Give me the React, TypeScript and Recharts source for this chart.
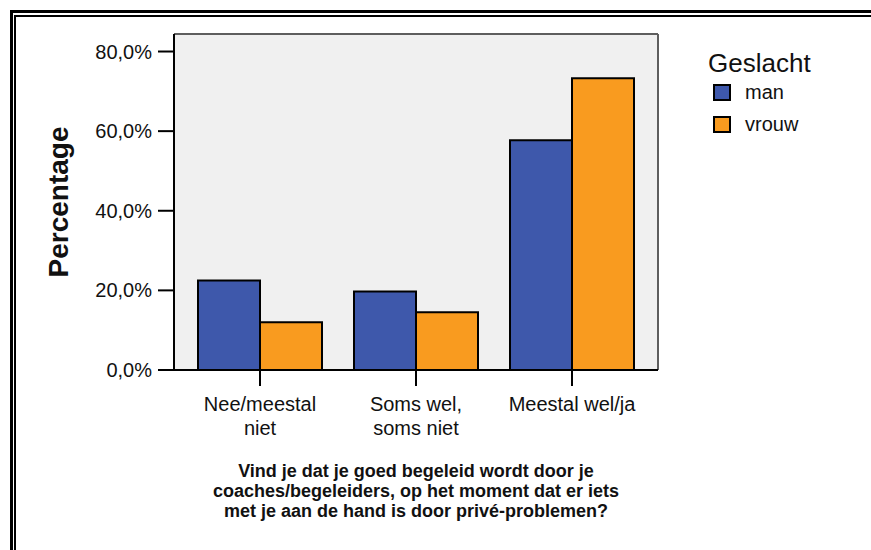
import { Bar, BarChart, CartesianGrid, Legend, XAxis, YAxis } from "recharts";

const categories = ["Nee/meestal\nniet", "Soms wel,\nsoms niet", "Meestal wel/ja"];
const manValues = [22.5, 19.7, 57.7];
const vrouwValues = [12.0, 14.5, 73.3];
const yTicks = [0, 20, 40, 60, 80];
const legendTitle = "Geslacht";
const yLabel = "Percentage";
const xTitle = [
  "Vind je dat je goed begeleid wordt door je",
  "coaches/begeleiders, op het moment dat er iets",
  "met je aan de hand is door privé-problemen?",
];

const data = categories.map((category, i) => ({
  category,
  man: manValues[i],
  vrouw: vrouwValues[i],
}));

const FONT = '"Liberation Sans", Arial, Helvetica, sans-serif';
const BLUE = "#3e58ab";
const ORANGE = "#f99b1f";

const pct = (v: number) => v.toFixed(1).replace(".", ",") + "%";

/** Category labels can span two lines, split on \n. */
function CategoryTick({ x, y, payload }: any) {
  const lines = String(payload.value).split("\n");
  return (
    <text x={x} y={y} textAnchor="middle" fontSize={20} fontFamily={FONT} fill="#111">
      {lines.map((line, i) => (
        <tspan key={i} x={x} dy={i === 0 ? 23 : 24}>
          {line}
        </tspan>
      ))}
    </text>
  );
}

function LegendBox({ payload }: any) {
  return (
    <div style={{ fontFamily: FONT, color: "#111" }}>
      <div style={{ fontSize: 26, lineHeight: "26px" }}>{legendTitle}</div>
      {(payload ?? []).map((item: any) => (
        <div key={item.value} style={{ display: "flex", alignItems: "center", height: 32 }}>
          <span
            style={{
              display: "inline-block",
              boxSizing: "border-box",
              width: 18,
              height: 17,
              marginLeft: 5,
              background: item.color,
              border: "2px solid #000",
            }}
          />
          <span style={{ fontSize: 20, marginLeft: 14 }}>{item.value}</span>
        </div>
      ))}
    </div>
  );
}

export default function App() {
  return (
    <div
      style={{
        position: "absolute",
        left: 0,
        top: 0,
        width: 871,
        height: 550,
        overflow: "hidden",
        background: "#fff",
      }}
    >
      {/* double frame, runs off the right and bottom edges */}
      <div style={{ position: "absolute", left: 10, top: 10, width: 900, height: 600, border: "3px solid #000" }} />
      <div style={{ position: "absolute", left: 14, top: 15, width: 900, height: 600, border: "2px solid #000" }} />
      <div style={{ position: "absolute", left: 0, top: 0 }}>
        <BarChart
          width={871}
          height={550}
          data={data}
          margin={{ top: 34, right: 213, bottom: 120, left: 74 }}
          barGap={0}
          barCategoryGap={16}
        >
          {/* grey plot frame: top and right edges of the plot area */}
          <CartesianGrid
            fill="#f0f0f0"
            stroke="#5e5e5e"
            strokeWidth={2}
            horizontalCoordinatesGenerator={({ offset }: any) => [offset.top]}
            verticalCoordinatesGenerator={({ offset }: any) => [offset.left + offset.width]}
          />
          <XAxis
            dataKey="category"
            height={60}
            padding={{ left: 8, right: 8 }}
            tickSize={16}
            tickMargin={2}
            tickLine={{ stroke: "#000", strokeWidth: 2 }}
            axisLine={{ stroke: "#000", strokeWidth: 2 }}
            tick={<CategoryTick />}
            interval={0}
            label={{
              content: ({ viewBox }: any) => (
                <text
                  x={viewBox.x + viewBox.width / 2}
                  y={viewBox.y + 107}
                  textAnchor="middle"
                  fontSize={18}
                  fontWeight="bold"
                  fontFamily={FONT}
                  fill="#111"
                >
                  {xTitle.map((line, i) => (
                    <tspan key={i} x={viewBox.x + viewBox.width / 2} dy={i === 0 ? 0 : 20}>
                      {line}
                    </tspan>
                  ))}
                </text>
              ),
            }}
          />
          <YAxis
            width={100}
            domain={[0, 84.4]}
            ticks={yTicks}
            tickFormatter={pct}
            tickSize={16}
            tickMargin={6}
            tickLine={{ stroke: "#000", strokeWidth: 2 }}
            axisLine={{ stroke: "#000", strokeWidth: 2 }}
            tick={{ fontSize: 20, fontFamily: FONT, fill: "#111" }}
            label={{
              content: ({ viewBox }: any) => {
                const cx = viewBox.x - 6;
                const cy = viewBox.y + viewBox.height / 2;
                return (
                  <text
                    x={cx}
                    y={cy}
                    transform={`rotate(-90, ${cx}, ${cy})`}
                    textAnchor="middle"
                    fontSize={28}
                    fontWeight="bold"
                    fontFamily={FONT}
                    fill="#111"
                  >
                    {yLabel}
                  </text>
                );
              },
            }}
          />
          <Legend
            layout="horizontal"
            verticalAlign="middle"
            align="center"
            content={<LegendBox />}
            wrapperStyle={{ left: 708, top: 50, width: 150, height: 120 }}
          />
          <Bar dataKey="man" name="man" fill={BLUE} stroke="#000" strokeWidth={2} barSize={62} isAnimationActive={false} />
          <Bar dataKey="vrouw" name="vrouw" fill={ORANGE} stroke="#000" strokeWidth={2} barSize={62} isAnimationActive={false} />
        </BarChart>
      </div>
    </div>
  );
}
